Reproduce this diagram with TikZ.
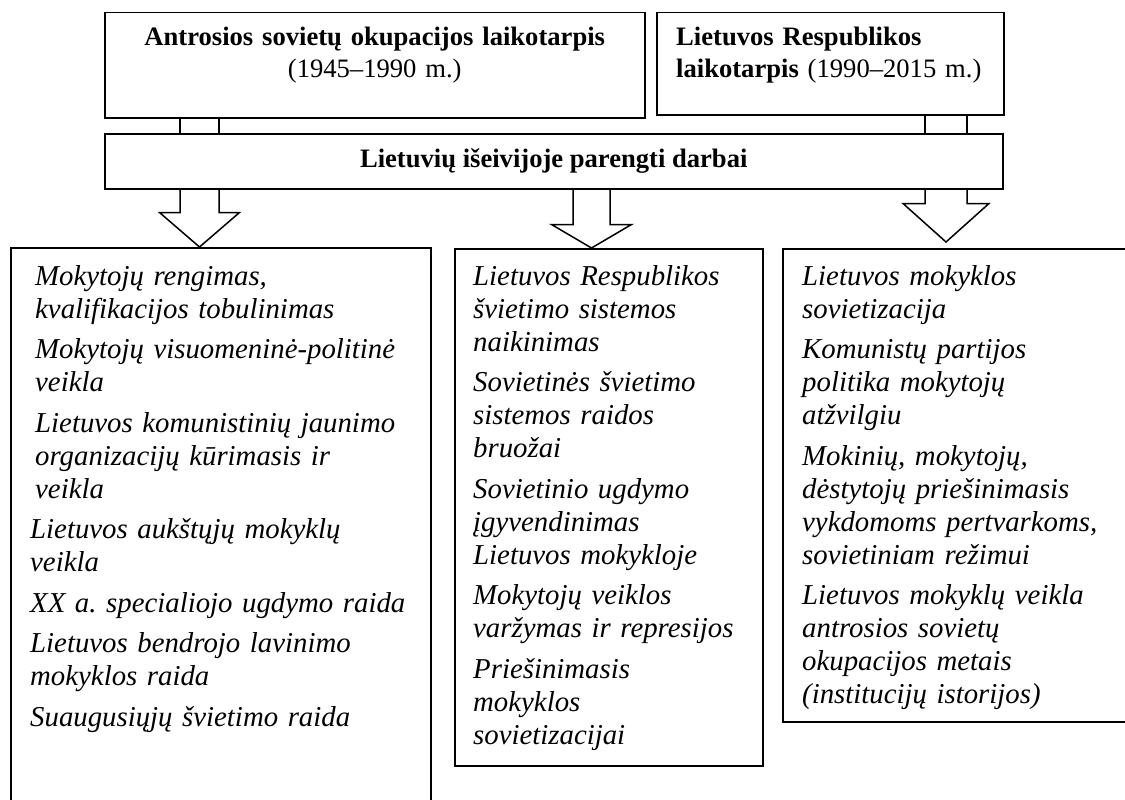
\documentclass[tikz,border=0pt]{standalone}
\usepackage{fontspec}
\setmainfont{Liberation Serif}
\usetikzlibrary{calc}
\frenchspacing

% block arrow from the bar down to a topic box:
% #1 centre coordinate, #2 half stem width, #3 half head width, #4 stem length, #5 tip
\newcommand\hollowarrow[5]{%
  \draw[outline] ($(bar.south -| #1)+(-#2,0)$) |- ($(bar.south -| #1)+(-#3,#4)$)
    -- #5 -- ($(bar.south -| #1)+(#3,#4)$) -| ($(bar.south -| #1)+(#2,0)$);}

\begin{document}
\begin{tikzpicture}[x=1pt,y=-1pt,
  frame/.style={draw, line width=1.5pt, inner sep=0pt, anchor=north west},
  outline/.style={draw, line width=1.5pt, line join=miter},
  head/.style={font=\fontsize{26.6}{32}\selectfont, inner sep=0pt},
  items/.style={font=\fontsize{28.8}{33}\selectfont\itshape, inner sep=0pt,
    align=left, text width=#1, anchor=base west}]
\useasboundingbox (0,0) rectangle (1125,800);
\clip (0,0) rectangle (1125,800);

% period boxes and the emigre bar
\node[frame, minimum width=540, minimum height=105] (top1) at (104,12) {};
\node[frame, minimum width=347, minimum height=102] (top2) at (656,12) {};
\node[frame, minimum width=898, minimum height=55,
      font=\fontsize{26.6}{32}\selectfont\bfseries] (bar) at (104,133)
      {Lietuvių išeivijoje parengti darbai};

\node[head, text width=540, align=center, anchor=base] (t1)
  at ($(top1.north)+(0,34)$)
  {\textbf{Antrosios sovietų okupacijos laikotarpis}\\(1945–1990 m.)};
\node[head, text width=330, align=left, anchor=base west] (t2)
  at ($(top2.north west)+(20,34)$)
  {\textbf{Lietuvos Respublikos}\\\textbf{laikotarpis} (1990–2015 m.)};

% topic boxes
\node[frame, minimum width=420, minimum height=600] (box1) at (10,247) {};
\node[frame, minimum width=308, minimum height=517] (box2) at (454,248) {};
\node[frame, minimum width=360, minimum height=473] (box3) at (782,248) {};

% stems between period boxes and the bar
\coordinate (ca) at (180,0);
\coordinate (cb) at (219,0);
\coordinate (cc) at (925,0);
\coordinate (cd) at (967,0);
\foreach \c in {ca,cb} \draw[outline] (top1.south -| \c) -- (bar.north -| \c);
\foreach \c in {cc,cd} \draw[outline] (top2.south -| \c) -- (bar.north -| \c);

% block arrows
\coordinate (a1) at (199.5,0);
\coordinate (a2) at (591.5,0);
\coordinate (a3) at (946,0);
\hollowarrow{a1}{19.5}{40}{23}{(box1.north -| a1)}
\hollowarrow{a2}{18.5}{40}{35}{(box2.north -| a2)}
\hollowarrow{a3}{21}{43}{14}{($(box3.north -| a3)+(0,-6)$)}

% topic lists
\node[items=395] (l1) at ($(box1.north west)+(20,38)$)
 {\hspace*{5pt}Mokytojų rengimas,\\
  \hspace*{5pt}kvalifikacijos tobulinimas\\[7.5pt]
  \hspace*{5pt}Mokytojų visuomeninė-politinė\\
  \hspace*{5pt}veikla\\[7.5pt]
  \hspace*{5pt}Lietuvos komunistinių jaunimo\\
  \hspace*{5pt}organizacijų kūrimasis ir\\
  \hspace*{5pt}veikla\\[7.5pt]
  Lietuvos aukštųjų mokyklų\\
  veikla\\[7.5pt]
  XX a. specialiojo ugdymo raida\\[7.5pt]
  Lietuvos bendrojo lavinimo\\
  mokyklos raida\\[7.5pt]
  Suaugusiųjų švietimo raida};

\node[items=285] (l2) at ($(box2.north west)+(19,37)$)
 {Lietuvos Respublikos\\
  švietimo sistemos\\
  naikinimas\\[7.5pt]
  Sovietinės švietimo\\
  sistemos raidos\\
  bruožai\\[7.5pt]
  Sovietinio ugdymo\\
  įgyvendinimas\\
  Lietuvos mokykloje\\[7.5pt]
  Mokytojų veiklos\\
  varžymas ir represijos\\[7.5pt]
  Priešinimasis\\
  mokyklos\\
  sovietizacijai};

\node[items=320] (l3) at ($(box3.north west)+(20,37)$)
 {Lietuvos mokyklos\\
  sovietizacija\\[7.5pt]
  Komunistų partijos\\
  politika mokytojų\\
  atžvilgiu\\[7.5pt]
  Mokinių, mokytojų,\\
  dėstytojų priešinimasis\\
  vykdomoms pertvarkoms,\\
  sovietiniam režimui\\[7.5pt]
  Lietuvos mokyklų veikla\\
  antrosios sovietų\\
  okupacijos metais\\
  (institucijų istorijos)};
\end{tikzpicture}
\end{document}
